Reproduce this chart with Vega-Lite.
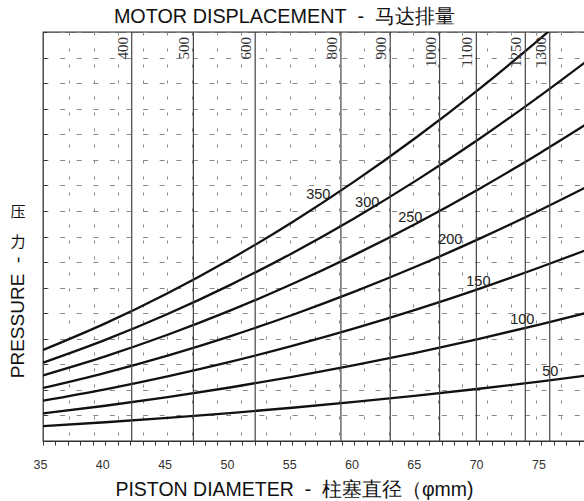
{
  "$schema": "https://vega.github.io/schema/vega-lite/v6.json",
  "width": 542,
  "height": 409,
  "autosize": "none",
  "padding": {"left": 43, "top": 32, "right": 0, "bottom": 60},
  "background": "white",
  "config": {"view": {"stroke": "#333", "strokeWidth": 1.3}, "font": "Liberation Sans"},
  "datasets": {
    "curves": [
      {"p": 50, "d": 35, "v": 0.585}, {"p": 50, "d": 40, "v": 0.734}, {"p": 50, "d": 45, "v": 0.903}, {"p": 50, "d": 50, "v": 1.092}, {"p": 50, "d": 55, "v": 1.300}, {"p": 50, "d": 60, "v": 1.528}, {"p": 50, "d": 65, "v": 1.776}, {"p": 50, "d": 70, "v": 2.044}, {"p": 50, "d": 75, "v": 2.332}, {"p": 50, "d": 78.6, "v": 2.56},
      {"p": 100, "d": 35, "v": 1.081}, {"p": 100, "d": 40, "v": 1.379}, {"p": 100, "d": 45, "v": 1.716}, {"p": 100, "d": 50, "v": 2.093}, {"p": 100, "d": 55, "v": 2.510}, {"p": 100, "d": 60, "v": 2.966}, {"p": 100, "d": 65, "v": 3.462}, {"p": 100, "d": 70, "v": 3.998}, {"p": 100, "d": 75, "v": 4.574}, {"p": 100, "d": 78.6, "v": 5.01},
      {"p": 150, "d": 35, "v": 1.577}, {"p": 150, "d": 40, "v": 2.023}, {"p": 150, "d": 45, "v": 2.529}, {"p": 150, "d": 50, "v": 3.095}, {"p": 150, "d": 55, "v": 3.720}, {"p": 150, "d": 60, "v": 4.404}, {"p": 150, "d": 65, "v": 5.148}, {"p": 150, "d": 70, "v": 5.952}, {"p": 150, "d": 75, "v": 6.815}, {"p": 150, "d": 78.6, "v": 7.47},
      {"p": 200, "d": 35, "v": 2.072}, {"p": 200, "d": 40, "v": 2.667}, {"p": 200, "d": 45, "v": 3.342}, {"p": 200, "d": 50, "v": 4.096}, {"p": 200, "d": 55, "v": 4.930}, {"p": 200, "d": 60, "v": 5.842}, {"p": 200, "d": 65, "v": 6.834}, {"p": 200, "d": 70, "v": 7.906}, {"p": 200, "d": 75, "v": 9.057}, {"p": 200, "d": 78.6, "v": 9.93},
      {"p": 250, "d": 35, "v": 2.568}, {"p": 250, "d": 40, "v": 3.312}, {"p": 250, "d": 45, "v": 4.155}, {"p": 250, "d": 50, "v": 5.098}, {"p": 250, "d": 55, "v": 6.140}, {"p": 250, "d": 60, "v": 7.280}, {"p": 250, "d": 65, "v": 8.520}, {"p": 250, "d": 70, "v": 9.860}, {"p": 250, "d": 75, "v": 11.299}, {"p": 250, "d": 78.6, "v": 12.39},
      {"p": 300, "d": 35, "v": 3.063}, {"p": 300, "d": 40, "v": 3.956}, {"p": 300, "d": 45, "v": 4.968}, {"p": 300, "d": 50, "v": 6.099}, {"p": 300, "d": 55, "v": 7.349}, {"p": 300, "d": 60, "v": 8.718}, {"p": 300, "d": 65, "v": 10.206}, {"p": 300, "d": 70, "v": 11.814}, {"p": 300, "d": 75, "v": 13.541}, {"p": 300, "d": 78.6, "v": 14.85},
      {"p": 350, "d": 35, "v": 3.559}, {"p": 350, "d": 40, "v": 4.601}, {"p": 350, "d": 45, "v": 5.781}, {"p": 350, "d": 50, "v": 7.101}, {"p": 350, "d": 55, "v": 8.560}, {"p": 350, "d": 60, "v": 10.156}, {"p": 350, "d": 65, "v": 11.892}, {"p": 350, "d": 70, "v": 13.768}, {"p": 350, "d": 75, "v": 15.782}, {"p": 350, "d": 78.6, "v": 17.3}
    ],
    "disp": [
      {"disp": "400", "d": 42.12}, {"disp": "500", "d": 47.07}, {"disp": "600", "d": 52.03}, {"disp": "800", "d": 58.91}, {"disp": "900", "d": 62.87}, {"disp": "1000", "d": 66.83}, {"disp": "1100", "d": 69.78}, {"disp": "1250", "d": 73.71}, {"disp": "1300", "d": 75.67}
    ],
    "labels": [
      {"label": "350", "d": 57.09, "v": 9.62}, {"label": "300", "d": 61.02, "v": 9.31}, {"label": "250", "d": 64.48, "v": 8.72}, {"label": "200", "d": 67.69, "v": 7.86}, {"label": "150", "d": 69.94, "v": 6.22}, {"label": "100", "d": 73.47, "v": 4.73}, {"label": "50", "d": 75.72, "v": 2.70}
    ],
    "ytitle": [
      {"t": "压", "d": 33.0, "v": 8.96}, {"t": "力", "d": 33.0, "v": 7.79}
    ]
  },
  "resolve": {"axis": {"x": "independent", "y": "independent"}},
  "layer": [
    {
      "data": {"name": "curves"},
      "mark": {"type": "line", "clip": true, "interpolate": "monotone", "color": "#111", "strokeWidth": 2.3},
      "encoding": {
        "x": {"field": "d", "type": "quantitative", "scale": {"domain": [35, 78.5], "nice": false, "zero": false},
          "axis": {"orient": "bottom", "values": [35,36,37,38,39,40,41,42,43,44,45,46,47,48,49,50,51,52,53,54,55,56,57,58,59,60,61,62,63,64,65,66,67,68,69,70,71,72,73,74,75,76,77,78],
            "labelExpr": "datum.value % 5 === 0 ? datum.label : ''", "labelOverlap": false, "labelFlush": false, "labelOffset": -3, "grid": false, "tickSize": 4, "tickColor": "#333", "domainColor": "#333",
            "labelPadding": 13, "labelFontSize": 12.5, "labelColor": "#333", "labelFont": "Liberation Sans",
            "title": "PISTON DIAMETER\u00a0 -\u00a0 柱塞直径（φmm)", "titleFont": "Liberation Sans", "titleFontSize": 19.5, "titleFontWeight": "normal", "titleColor": "#111",
            "titleX": 251, "titleY": 48, "titleBaseline": "middle", "titleAlign": "center"}},
        "y": {"field": "v", "type": "quantitative", "scale": {"domain": [0, 16], "nice": false, "zero": false},
          "axis": {"values": [0,1,2,3,4,5,6,7,8,9,10,11,12,13,14,15,16], "labels": false, "tickSize": -4, "tickColor": "#333", "domain": false,
            "grid": true, "gridDash": [5, 11.6], "gridColor": "#888", "gridWidth": 1,
            "title": "PRESSURE\u00a0 -", "titleFont": "Liberation Sans", "titleFontSize": 19, "titleFontWeight": "normal", "titleColor": "#111",
            "titleX": -26, "titleY": 285, "titleAlign": "center", "titleBaseline": "middle"}},
        "detail": {"field": "p", "type": "nominal"}
      }
    },
    {
      "data": {"name": "disp"},
      "mark": {"type": "rule", "color": "#444", "strokeWidth": 1.2},
      "encoding": {
        "x": {"field": "d", "type": "quantitative",
          "axis": {"orient": "top", "values": [37.1,39.07,41.04,43.02,44.99,46.96,48.93,50.9,52.88,54.85,56.82,58.79,60.76,62.74,64.71,66.68,68.65,70.62,72.6,74.57,76.54],
            "labels": false, "ticks": false, "domain": false, "grid": true, "gridDash": [3, 13], "gridColor": "#888", "gridWidth": 1,
            "title": "MOTOR DISPLACEMENT\u00a0 -\u00a0 马达排量", "titleFont": "Liberation Sans", "titleFontSize": 19.8, "titleFontWeight": "normal", "titleColor": "#111",
            "titleX": 241, "titleY": -16, "titleBaseline": "middle", "titleAlign": "center"}}
      }
    },
    {
      "data": {"name": "disp"},
      "mark": {"type": "text", "angle": 270, "align": "right", "baseline": "bottom", "dy": -1, "font": "Liberation Serif", "fontSize": 15, "color": "#333"},
      "encoding": {
        "x": {"field": "d", "type": "quantitative", "axis": null},
        "y": {"datum": 15.8, "type": "quantitative", "axis": null},
        "text": {"field": "disp"}
      }
    },
    {
      "data": {"name": "labels"},
      "mark": {"type": "text", "font": "Liberation Sans", "fontSize": 14.5, "color": "#222"},
      "encoding": {
        "x": {"field": "d", "type": "quantitative", "axis": null},
        "y": {"field": "v", "type": "quantitative", "axis": null},
        "text": {"field": "label"}
      }
    },
    {
      "data": {"name": "ytitle"},
      "mark": {"type": "text", "font": "Noto Sans CJK SC", "fontSize": 15, "color": "#111", "clip": false},
      "encoding": {
        "x": {"field": "d", "type": "quantitative", "axis": null},
        "y": {"field": "v", "type": "quantitative", "axis": null},
        "text": {"field": "t"}
      }
    }
  ]
}
